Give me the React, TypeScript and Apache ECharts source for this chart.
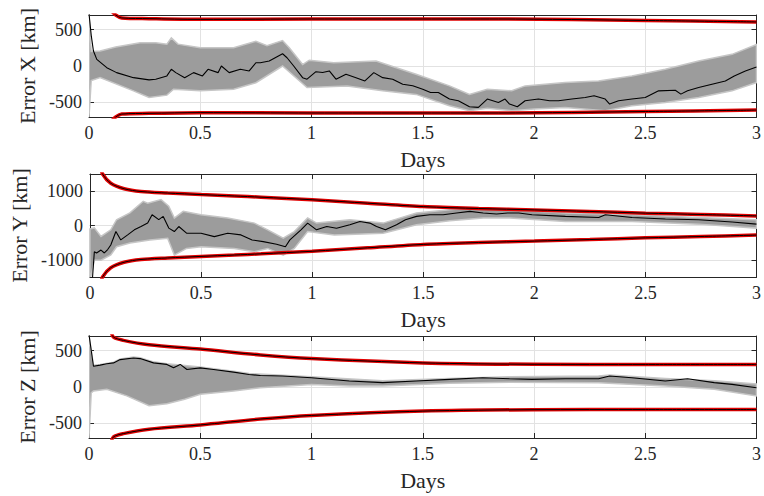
import React, { useEffect, useRef } from "react";
import * as echarts from "echarts";

// ---------- Data (days, km) ----------
const xMean: number[][] = [[0,720],[0.01,420],[0.02,205],[0.035,91],[0.08,-23],[0.124,-91],[0.2,-160],[0.27,-191],[0.3,-181],[0.35,-136],[0.37,-45],[0.39,-91],[0.43,-160],[0.47,-91],[0.51,-136],[0.535,-45],[0.58,-91],[0.595,0],[0.63,-91],[0.68,-45],[0.72,-68],[0.75,45],[0.77,45],[0.81,68],[0.87,168],[0.89,113],[0.92,0],[0.96,-160],[0.98,-181],[1.02,-78],[1.05,-90],[1.08,-68],[1.11,-181],[1.155,-113],[1.2,-160],[1.24,-205],[1.28,-91],[1.32,-160],[1.365,-181],[1.41,-250],[1.455,-272],[1.5,-318],[1.535,-364],[1.57,-364],[1.62,-454],[1.66,-477],[1.71,-560],[1.75,-568],[1.79,-454],[1.84,-500],[1.87,-454],[1.89,-523],[1.925,-560],[1.96,-477],[2.02,-454],[2.07,-477],[2.11,-477],[2.17,-454],[2.23,-432],[2.27,-409],[2.32,-454],[2.34,-523],[2.38,-477],[2.44,-454],[2.5,-432],[2.56,-341],[2.635,-332],[2.66,-386],[2.69,-341],[2.74,-296],[2.8,-250],[2.86,-205],[2.9,-136],[2.95,-68],[3.0,-14]];
const xBandUpper: number[][] = [[0,700],[0.01,200],[0.05,205],[0.12,260],[0.23,318],[0.3,318],[0.35,300],[0.37,386],[0.4,300],[0.5,250],[0.65,250],[0.75,340],[0.8,280],[0.87,350],[0.9,250],[0.96,20],[0.99,80],[1.1,45],[1.29,68],[1.47,-113],[1.62,-273],[1.71,-390],[1.79,-318],[1.9,-340],[1.96,-273],[2.14,-227],[2.29,-205],[2.44,-136],[2.59,-45],[2.74,68],[2.89,160],[3.0,296]];
const xBandLower: number[][] = [[0,-700],[0.01,-200],[0.05,-160],[0.2,-341],[0.27,-432],[0.35,-400],[0.38,-318],[0.5,-341],[0.65,-318],[0.75,-230],[0.87,0],[0.98,-296],[1.16,-273],[1.32,-340],[1.47,-390],[1.62,-545],[1.71,-614],[1.79,-580],[1.9,-614],[2.0,-591],[2.14,-568],[2.32,-614],[2.44,-545],[2.59,-500],[2.74,-432],[2.89,-341],[3.0,-227]];
const xSigma: number[][] = [[0.1,760],[0.12,700],[0.147,660],[0.27,650],[0.5,640],[1.0,645],[1.5,645],[1.84,645],[2.5,625],[3.0,605]];

const yMean: number[][] = [[0,-1600],[0.012,-1500],[0.02,-765],[0.03,-800],[0.05,-715],[0.065,-800],[0.08,-700],[0.094,-568],[0.117,-176],[0.139,-420],[0.17,-274],[0.2,-126],[0.23,-30],[0.26,70],[0.28,315],[0.31,170],[0.33,265],[0.355,-76],[0.38,-176],[0.4,-30],[0.435,-224],[0.5,-224],[0.56,-324],[0.62,-224],[0.68,-274],[0.73,-420],[0.78,-470],[0.84,-548],[0.88,-618],[0.9,-420],[0.95,-126],[0.98,70],[1.02,-126],[1.066,-30],[1.11,-80],[1.17,20],[1.215,118],[1.26,70],[1.29,-30],[1.33,-126],[1.38,20],[1.42,168],[1.47,265],[1.53,315],[1.59,315],[1.65,365],[1.71,412],[1.77,365],[1.83,335],[1.88,365],[1.93,365],[1.99,315],[2.14,265],[2.29,235],[2.32,315],[2.44,235],[2.59,188],[2.74,168],[2.89,100],[3.0,40]];
const yBandUpper: number[][] = [[0,-100],[0.02,-70],[0.05,-320],[0.094,-126],[0.12,168],[0.18,370],[0.24,705],[0.26,650],[0.32,756],[0.355,560],[0.38,218],[0.42,412],[0.5,315],[0.62,218],[0.74,70],[0.8,-126],[0.87,-370],[0.92,-176],[0.98,218],[1.02,70],[1.17,168],[1.32,70],[1.47,365],[1.62,462],[1.71,512],[1.89,462],[2.14,365],[2.44,315],[2.74,235],[3.0,168]];
const yBandLower: number[][] = [[0,-1600],[0.02,-1010],[0.05,-1010],[0.094,-860],[0.12,-618],[0.18,-510],[0.27,-420],[0.35,-370],[0.38,-862],[0.435,-668],[0.5,-618],[0.65,-668],[0.74,-765],[0.8,-668],[0.87,-862],[0.92,-668],[0.98,-176],[1.1,-274],[1.32,-224],[1.47,20],[1.62,135],[1.77,218],[1.89,218],[2.14,120],[2.44,120],[2.74,40],[3.0,-76]];
const ySigma: number[][] = [[0.05,1700],[0.057,1500],[0.094,1230],[0.154,1070],[0.23,990],[0.35,945],[0.5,900],[0.65,860],[0.77,825],[1.0,750],[1.25,650],[1.5,550],[1.75,495],[2.0,455],[2.25,410],[2.5,360],[2.75,320],[3.0,280]];

const zMean: number[][] = [[0,720],[0.02,285],[0.05,300],[0.08,320],[0.11,331],[0.14,376],[0.2,399],[0.23,390],[0.29,331],[0.35,310],[0.38,263],[0.41,310],[0.44,240],[0.5,263],[0.56,240],[0.65,204],[0.72,172],[0.77,158],[0.87,150],[1.0,127],[1.17,82],[1.32,60],[1.47,82],[1.62,104],[1.77,127],[1.89,113],[1.99,104],[2.14,113],[2.29,113],[2.34,150],[2.44,127],[2.59,82],[2.69,113],[2.81,60],[2.89,36],[3.0,-10]];
const zBandUpper: number[][] = [[0,700],[0.02,300],[0.05,310],[0.11,340],[0.14,385],[0.2,410],[0.23,400],[0.29,345],[0.35,320],[0.5,275],[0.65,215],[0.72,185],[1.0,140],[1.32,85],[1.62,118],[1.89,140],[2.29,150],[2.34,165],[2.59,115],[2.81,85],[3.0,40]];
const zBandLower: number[][] = [[0,-700],[0.01,-80],[0.02,-54],[0.08,-32],[0.17,-122],[0.27,-258],[0.35,-231],[0.43,-168],[0.5,-100],[0.65,-54],[0.77,-9],[1.0,36],[1.17,14],[1.32,14],[1.62,50],[1.89,64],[2.29,60],[2.59,14],[2.81,-32],[3.0,-122]];
const zSigma: number[][] = [[0.1,760],[0.11,684],[0.154,640],[0.27,580],[0.5,521],[0.77,440],[1.0,390],[1.5,331],[2.0,312],[2.5,310],[3.0,310]];

const axisNames = ["Error X [km]", "Error Y [km]", "Error Z [km]"];
const yLimits = [700, 1500, 700];
const yStep = [500, 1000, 500];
const xTickStep = 0.5;

const panels = [
  { mean: xMean, up: xBandUpper, lo: xBandLower, sig: xSigma },
  { mean: yMean, up: yBandUpper, lo: yBandLower, sig: ySigma },
  { mean: zMean, up: zBandUpper, lo: zBandLower, sig: zSigma },
];

const FONT = "'Liberation Serif', 'DejaVu Serif', serif";
const INK = "#262626";
const GRID = "#e2e2e2";
const fmt = (v: number) => String(v);

export default function App() {
  const ref = useRef<HTMLDivElement>(null);
  useEffect(() => {
    if (!ref.current) return;
    const chart = echarts.init(ref.current, null, { renderer: "svg" });
    const tops = [15, 174, 336];
    const heights = [102, 103, 102];
    const grid = tops.map((t, i) => ({ left: 89, right: 6, top: t, height: heights[i], show: false }));
    const xAxis: any[] = [];
    const yAxis: any[] = [];
    const series: any[] = [];
    panels.forEach((p, i) => {
      xAxis.push({
        type: "value", gridIndex: i, min: 0, max: 3, interval: xTickStep, position: "bottom",
        name: "Days", nameLocation: "middle", nameGap: 31,
        nameTextStyle: { fontFamily: FONT, fontSize: 22, color: INK },
        axisLine: { show: true, onZero: false, lineStyle: { color: INK, width: 1 } },
        axisTick: { show: true, inside: true, length: 5, lineStyle: { color: INK } },
        axisLabel: { fontFamily: FONT, fontSize: 18, color: INK, margin: 7, formatter: fmt },
        splitLine: { show: true, lineStyle: { color: GRID, width: 1 } },
      });
      xAxis.push({
        type: "value", gridIndex: i, min: 0, max: 3, interval: xTickStep, position: "top",
        axisLine: { show: true, onZero: false, lineStyle: { color: INK, width: 1 } },
        axisTick: { show: true, inside: true, length: 5, lineStyle: { color: INK } },
        axisLabel: { show: false }, splitLine: { show: false },
      });
      const L = yLimits[i];
      yAxis.push({
        type: "value", gridIndex: i, min: -L, max: L, minInterval: yStep[i], maxInterval: yStep[i], splitNumber: 3,
        position: "left",
        name: axisNames[i], nameLocation: "middle", nameGap: 47, nameRotate: 90,
        nameTextStyle: { fontFamily: FONT, fontSize: 22, color: INK },
        axisLine: { show: true, onZero: false, lineStyle: { color: INK, width: 1 } },
        axisTick: { show: true, inside: true, length: 5, lineStyle: { color: INK } },
        axisLabel: { fontFamily: FONT, fontSize: 18, color: INK, margin: 7, showMinLabel: false, showMaxLabel: false, formatter: fmt },
        splitLine: { show: true, lineStyle: { color: GRID, width: 1 } },
      });
      yAxis.push({
        type: "value", gridIndex: i, min: -L, max: L, minInterval: yStep[i], maxInterval: yStep[i], splitNumber: 3,
        position: "right",
        axisLine: { show: true, onZero: false, lineStyle: { color: INK, width: 1 } },
        axisTick: { show: true, inside: true, length: 5, lineStyle: { color: INK } },
        axisLabel: { show: false }, splitLine: { show: false },
      });
      const xi = 2 * i;
      const yi = 2 * i;
      const poly = [...p.up, ...p.lo.slice().reverse()];
      series.push({
        type: "custom", xAxisIndex: xi, yAxisIndex: yi, clip: true, silent: true, z: 1,
        data: poly,
        renderItem: (params: any, api: any) => {
          if (params.dataIndex !== 0) return null;
          const pts = poly.map((d) => api.coord(d));
          return {
            type: "polygon",
            shape: { points: pts },
            style: { fill: "#9c9c9c", stroke: "#c6c6c6", lineWidth: 1.5 },
          };
        },
      });
      series.push({
        type: "line", xAxisIndex: xi, yAxisIndex: yi, data: p.mean, showSymbol: false, z: 3,
        lineStyle: { color: "#000", width: 1.1 }, silent: true,
      });
      const neg = p.sig.map((d) => [d[0], -d[1]]);
      [p.sig, neg].forEach((d) => {
        series.push({
          type: "line", xAxisIndex: xi, yAxisIndex: yi, data: d, showSymbol: false, z: 4, smooth: 0.3,
          lineStyle: { color: "#e00000", width: 3.5 }, silent: true,
        });
        series.push({
          type: "line", xAxisIndex: xi, yAxisIndex: yi, data: d, showSymbol: false, z: 5, smooth: 0.3,
          lineStyle: { color: "#000", width: 1 }, silent: true,
        });
      });
    });
    chart.setOption({ animation: false, backgroundColor: "#fff", grid, xAxis, yAxis, series });
    return () => chart.dispose();
  }, []);
  return <div ref={ref} style={{ width: 764, height: 496, position: "absolute", left: 0, top: 0 }} />;
}
